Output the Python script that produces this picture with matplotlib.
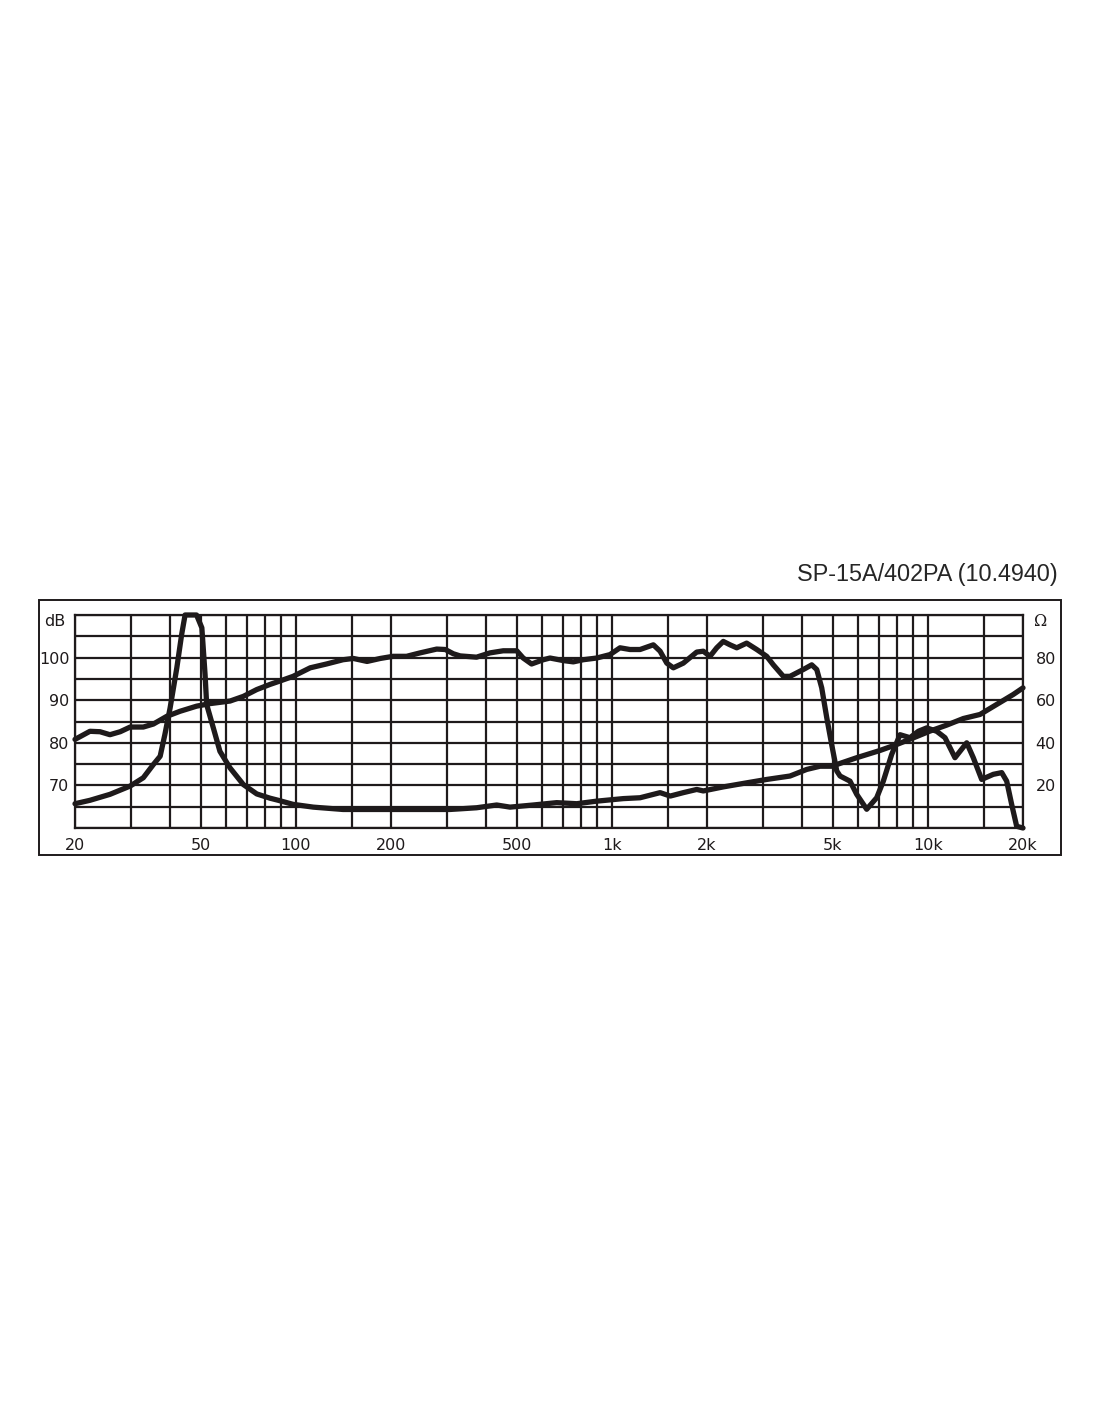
import matplotlib.pyplot as plt
from matplotlib.patches import Rectangle
from matplotlib.ticker import NullLocator

# frequency response (dB, left axis)
freq_spl = [20, 22.3, 24, 25.8, 27.8, 29.9, 32.9, 35.4, 39, 43, 48.5, 53.5, 61.9, 68.2,
            75.2, 82.8, 89, 98, 111, 125, 141, 152, 168, 185, 203, 224, 247, 279, 297,
            315, 331, 373, 411, 453, 500, 524, 557, 607, 637, 702, 755, 812, 895, 986,
            1061, 1141, 1228, 1353, 1421, 1492, 1565, 1683, 1856, 1947, 2044, 2147, 2252,
            2365, 2484, 2670, 2874, 3090, 3243, 3488, 3662, 4034, 4290, 4450, 4614, 4786,
            4964, 5148, 5274, 5670, 5954, 6404, 6887, 7228, 7684, 8164, 8778, 9326, 9916,
            10666, 11330, 12184, 13270, 13924, 14802, 16108, 17126, 17760, 18420, 19100, 20000]
spl_db = [80.8, 82.7, 82.6, 81.9, 82.6, 83.7, 83.7, 84.4, 86.2, 87.4, 88.6, 89.2, 89.8, 90.9,
          92.5, 93.7, 94.5, 95.6, 97.6, 98.5, 99.5, 99.8, 99.1, 99.8, 100.3, 100.3, 101.1, 102, 101.9,
          100.9, 100.4, 100.1, 101.1, 101.6, 101.6, 99.9, 98.5, 99.5, 99.9, 99.3, 99.0, 99.5, 99.9, 100.7,
          102.3, 101.9, 101.9, 103, 101.5, 98.7, 97.6, 98.7, 101.3, 101.5, 100.3, 102.3, 103.8,
          103, 102.3, 103.4, 101.9, 100.3, 98.3, 95.6, 95.6, 97.2, 98.3, 97.2, 92.9, 85.9,
          79.5, 73.4, 72.2, 71.0, 67.9, 64.4, 67.1, 71, 77.3, 81.9, 81.2, 82.7, 83.5,
          82.7, 81.2, 76.5, 80, 76.5, 71.4, 72.6, 73, 71, 65.5, 60.4, 60]

# impedance (ohm, right axis)
freq_imp = [20, 22.3, 25.8, 29.9, 32.9, 35.4, 37.2, 38.5, 40, 42, 43.5, 44.6, 48.5, 50.4,
            51.6, 52.2, 54.8, 57.5, 61.9, 68.2, 75.2, 82.8, 88, 98, 113.5, 141, 203, 307,
            331, 373, 432, 476, 564, 669, 774, 895, 1087, 1228, 1421, 1530, 1683, 1856, 1947,
            2252, 2670, 3090, 3662, 4136, 4558, 4964, 5148, 5954, 7056, 7968, 8992, 10154,
            11472, 12948, 14618, 16508, 18636, 20000]
imp_ohm = [11.4, 13, 15.8, 19.7, 23.6, 29.8, 33.7, 43.9, 56.4, 75.2, 90.8, 100, 100, 94,
           72, 58, 47, 36, 28.2, 20.4, 16, 14, 13, 11.1, 9.8, 8.7, 8.7, 8.7,
           9.0, 9.5, 10.8, 9.8, 10.8, 11.9, 11.4, 12.6, 13.8, 14.2, 16.6, 15.0, 16.6, 18.1, 17.4,
           19.3, 21.2, 22.8, 24.4, 27.5, 29, 29, 29.8, 33, 36.4, 39.2, 42.3, 45.5,
           48.3, 51.4, 53.3, 58, 62.7, 65.8]

x_grid = [20, 30, 40, 50, 60, 70, 80, 90, 100, 150, 200, 300, 400, 500, 600, 700, 800, 900,
          1000, 1500, 2000, 3000, 4000, 5000, 6000, 7000, 8000, 9000, 10000, 15000, 20000]
x_ticks = [20, 50, 100, 200, 500, 1000, 2000, 5000, 10000, 20000]
x_labels = ['20', '50', '100', '200', '500', '1k', '2k', '5k', '10k', '20k']
db_ticks = [70, 80, 90, 100]
ohm_ticks = [20, 40, 60, 80]

ink = '#1e1a1b'
W, H = 1100, 1422
fs = 11.5

fig = plt.figure(figsize=(11, 14.22), dpi=100)
ax = fig.add_axes([75 / W, 1 - 828 / H, 948 / W, 213 / H])
ax.set_xscale('log')
ax.set_xlim(20, 20000)
ax.set_ylim(60, 110)

for f in x_grid:
    ax.axvline(f, color=ink, lw=1.6, zorder=1)
for y in range(60, 111, 5):
    ax.axhline(y, color=ink, lw=1.6, zorder=1)

ax.plot(freq_spl, spl_db, color=ink, lw=3.8, solid_capstyle='round',
        solid_joinstyle='round', clip_on=False, zorder=3)

ax.set_xticks(x_ticks, x_labels)
ax.xaxis.set_minor_locator(NullLocator())
ax.set_yticks(db_ticks)
ax.tick_params(length=0, labelsize=fs, labelcolor=ink)
ax.tick_params(axis='x', pad=7)
ax.tick_params(axis='y', pad=4)
for s in ax.spines.values():
    s.set_linewidth(1.6)
    s.set_color(ink)

ax2 = ax.twinx()
ax2.set_ylim(0, 100)
ax2.plot(freq_imp, imp_ohm, color=ink, lw=3.8, solid_capstyle='round',
         solid_joinstyle='round', clip_on=False, zorder=3)
ax2.set_yticks(ohm_ticks)
ax2.tick_params(length=0, labelsize=fs, labelcolor=ink, pad=9)
ax2.xaxis.set_minor_locator(NullLocator())
for s in ax2.spines.values():
    s.set_visible(False)

# unit labels
fig.text(55 / W, 1 - 622 / H, 'dB', ha='center', va='center', fontsize=fs, color=ink)
fig.text(1041 / W, 1 - 622 / H, 'Ω', ha='center', va='center', fontsize=fs,
         family='DejaVu Serif', color=ink)

# outer frame
fig.add_artist(Rectangle((38.5 / W, 1 - 855 / H), 1022 / W, 255 / H,
                         transform=fig.transFigure, fill=False, lw=1.4, ec=ink))

fig.text(1058 / W, 1 - 574 / H, 'SP-15A/402PA (10.4940)', ha='right', va='center',
         fontsize=16.8, family='Liberation Sans', color='#262626')

fig.savefig('out.png', dpi=100, facecolor='white')
